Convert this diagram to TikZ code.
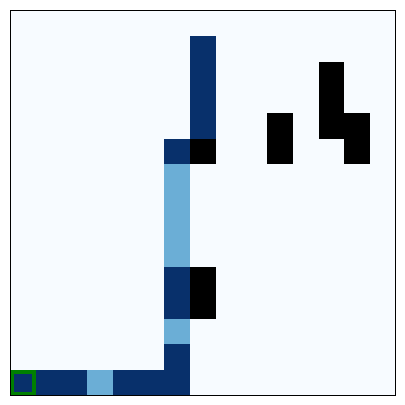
\documentclass[tikz,border=0pt]{standalone}
\definecolor{bgc}{HTML}{F7FBFF}
\definecolor{darkc}{HTML}{08306B}
\definecolor{lightc}{HTML}{6BAED6}
\definecolor{greenc}{HTML}{008000}
\begin{document}
\begin{tikzpicture}[x=0.5cm,y=0.5cm,
  darkcell/.style={fill=darkc},
  lightcell/.style={fill=lightc},
  wallcell/.style={fill=black}]
\useasboundingbox[fill=white] (-0.40,-0.36) rectangle (15.36,15.40);
\fill[bgc] (0,0) rectangle (15,15);
% cell (c,r) with r from top: (c,14-r) rectangle (c+1,15-r)
\foreach \c/\r in {7/1,7/2,7/3,7/4,6/5,6/10,6/11,6/13,6/14,0/14,1/14,2/14,4/14,5/14}
  \path[darkcell] (\c,14-\r) rectangle (\c+1,15-\r);
\foreach \c/\r in {6/6,6/7,6/8,6/9,6/12,3/14}
  \path[lightcell] (\c,14-\r) rectangle (\c+1,15-\r);
\foreach \c/\r in {7/5,7/10,7/11,10/4,10/5,12/2,12/3,12/4,13/4,13/5}
  \path[wallcell] (\c,14-\r) rectangle (\c+1,15-\r);
\draw[greenc,line width=2.3pt] (0.08,0.08) rectangle (0.92,0.92);
\draw[black,line width=0.6pt] (0,0) rectangle (15,15);
\end{tikzpicture}
\end{document}
